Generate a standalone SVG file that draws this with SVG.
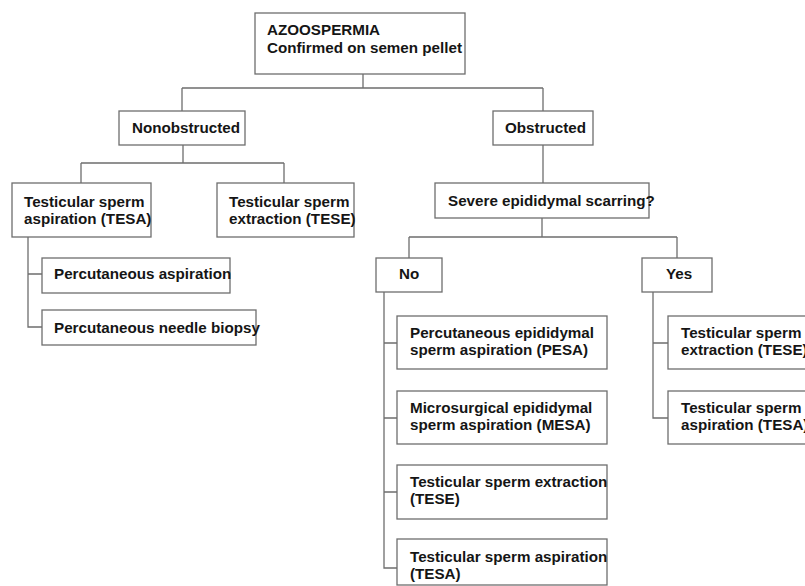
<svg xmlns="http://www.w3.org/2000/svg" width="805" height="586" viewBox="0 0 805 586">
  <style>
    .box { fill: #ffffff; stroke: #6e6e6e; stroke-width: 1.3; }
    .lbl { font-family: "Liberation Sans", Arial, sans-serif; font-weight: bold; font-size: 15.2px; fill: #151515; }
    .wire { fill: none; stroke: #6e6e6e; stroke-width: 1.3; }
  </style>
  <rect width="805" height="586" fill="#ffffff"/>

  <!-- connectors -->
  <g id="connectors" class="wire">
    <path d="M363 74 V88 M182 88 H543 M182 88 V111 M543 88 V111"/>
    <path d="M183 145 V163 M81 163 H284 M81 163 V183 M284 163 V183"/>
    <path d="M28 237 V327 H42 M28 274 H42"/>
    <path d="M543 145 V183"/>
    <path d="M542 218 V237 M409 237 H677 M409 237 V258 M677 237 V258"/>
    <path d="M384 292 V568 H397 M384 343 H397 M384 418 H397 M384 492 H397"/>
    <path d="M653 292 V418 H668 M653 343 H668"/>
  </g>

  <g id="azoospermia">
    <rect class="box" x="255" y="13" width="210" height="61"/>
    <text class="lbl" x="267" y="35">AZOOSPERMIA</text>
    <text class="lbl" x="267" y="53">Confirmed on semen pellet</text>
  </g>

  <g id="nonobstructed">
    <rect class="box" x="119" y="111" width="126" height="34"/>
    <text class="lbl" x="132" y="133">Nonobstructed</text>
  </g>

  <g id="obstructed">
    <rect class="box" x="493" y="111" width="100" height="34"/>
    <text class="lbl" x="505" y="133">Obstructed</text>
  </g>

  <g id="non-tesa">
    <rect class="box" x="12" y="183" width="139" height="54"/>
    <text class="lbl" x="24" y="207">Testicular sperm</text>
    <text class="lbl" x="24" y="224">aspiration (TESA)</text>
  </g>

  <g id="non-tese">
    <rect class="box" x="217" y="183" width="137" height="54"/>
    <text class="lbl" x="229" y="207">Testicular sperm</text>
    <text class="lbl" x="229" y="224">extraction (TESE)</text>
  </g>

  <g id="perc-aspiration">
    <rect class="box" x="42" y="258" width="188" height="35"/>
    <text class="lbl" x="54" y="279">Percutaneous aspiration</text>
  </g>

  <g id="perc-needle">
    <rect class="box" x="42" y="310" width="214" height="35"/>
    <text class="lbl" x="54" y="333">Percutaneous needle biopsy</text>
  </g>

  <g id="scarring">
    <rect class="box" x="435" y="183" width="214" height="35"/>
    <text class="lbl" x="448" y="206">Severe epididymal scarring?</text>
  </g>

  <g id="no">
    <rect class="box" x="376" y="258" width="66" height="34"/>
    <text class="lbl" x="399" y="279">No</text>
  </g>

  <g id="yes">
    <rect class="box" x="642" y="258" width="70" height="34"/>
    <text class="lbl" x="666" y="279">Yes</text>
  </g>

  <g id="pesa">
    <rect class="box" x="397" y="316" width="210" height="53"/>
    <text class="lbl" x="410" y="338">Percutaneous epididymal</text>
    <text class="lbl" x="410" y="355">sperm aspiration (PESA)</text>
  </g>

  <g id="mesa">
    <rect class="box" x="397" y="391" width="210" height="53"/>
    <text class="lbl" x="410" y="413">Microsurgical epididymal</text>
    <text class="lbl" x="410" y="430">sperm aspiration (MESA)</text>
  </g>

  <g id="no-tese">
    <rect class="box" x="397" y="465" width="210" height="54"/>
    <text class="lbl" x="410" y="487">Testicular sperm extraction</text>
    <text class="lbl" x="410" y="504">(TESE)</text>
  </g>

  <g id="no-tesa">
    <rect class="box" x="397" y="539" width="210" height="46"/>
    <text class="lbl" x="410" y="562">Testicular sperm aspiration</text>
    <text class="lbl" x="410" y="579">(TESA)</text>
  </g>

  <g id="yes-tese">
    <rect class="box" x="668" y="316" width="160" height="53"/>
    <text class="lbl" x="681" y="338">Testicular sperm</text>
    <text class="lbl" x="681" y="355">extraction (TESE)</text>
  </g>

  <g id="yes-tesa">
    <rect class="box" x="668" y="391" width="160" height="53"/>
    <text class="lbl" x="681" y="413">Testicular sperm</text>
    <text class="lbl" x="681" y="430">aspiration (TESA)</text>
  </g>
</svg>
